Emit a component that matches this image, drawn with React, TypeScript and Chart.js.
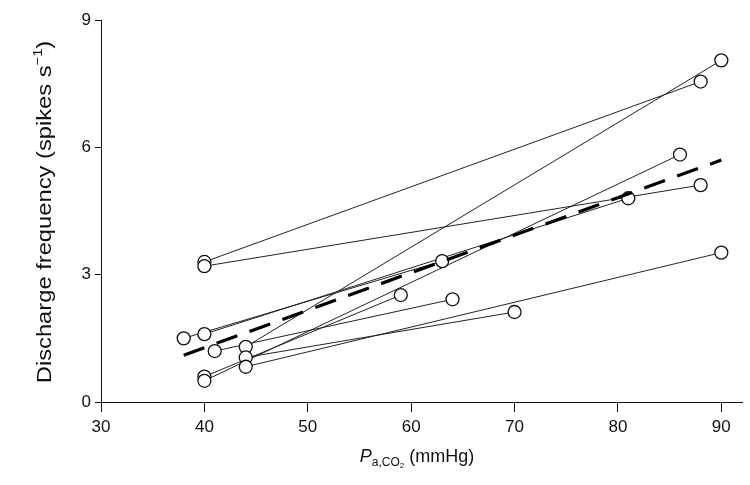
import React, { useEffect, useRef } from "react";
import { Chart, registerables } from "chart.js";

Chart.register(...registerables);

// Each neuron: low-CO2 point -> high-CO2 point
const lowX = [38, 40, 41, 44, 44, 44, 40, 40, 40, 40];
const lowY = [1.5, 1.6, 1.2, 1.3, 1.05, 0.83, 0.6, 0.5, 3.3, 3.2];
const highX = [63, 81, 64, 90, 70, 90, 59, 86, 88, 88];
const highY = [3.32, 4.8, 2.42, 8.05, 2.12, 3.52, 2.52, 5.83, 7.55, 5.11];

// Regression (dashed) line end points
const fitX = [38, 90];
const fitY = [1.1, 5.7];

const xTicks = [30, 40, 50, 60, 70, 80, 90];
const yTicks = [0, 3, 6, 9];

const FONT = '"Liberation Sans", Arial, sans-serif';

const titlePlugin = {
  id: "customTitles",
  afterDraw(chart: any) {
    const ctx = chart.ctx;
    ctx.save();
    ctx.fillStyle = "#111";
    ctx.textBaseline = "alphabetic";
    // X title: P_a,CO2 (mmHg)
    const parts = [
      { t: "P", f: `italic 18px ${FONT}`, dy: 0 },
      { t: "a,CO", f: `12px ${FONT}`, dy: 4 },
      { t: "2", f: `8px ${FONT}`, dy: 6 },
      { t: " (mmHg)", f: `18px ${FONT}`, dy: 0 },
    ];
    let total = 0;
    for (const p of parts) {
      ctx.font = p.f;
      total += ctx.measureText(p.t).width;
    }
    let x = 417 - total / 2;
    const base = 462;
    ctx.textAlign = "left";
    for (const p of parts) {
      ctx.font = p.f;
      ctx.fillText(p.t, x, base + p.dy);
      x += ctx.measureText(p.t).width;
    }
    // Y title
    ctx.translate(51, 212);
    ctx.rotate(-Math.PI / 2);
    ctx.scale(1.13, 1);
    const yparts = [
      { t: "Discharge frequency (spikes s", f: `21px ${FONT}`, dy: 0 },
      { t: "\u22121", f: `13px ${FONT}`, dy: -9 },
      { t: ")", f: `21px ${FONT}`, dy: 0 },
    ];
    total = 0;
    for (const p of yparts) {
      ctx.font = p.f;
      total += ctx.measureText(p.t).width;
    }
    x = -total / 2;
    for (const p of yparts) {
      ctx.font = p.f;
      ctx.fillText(p.t, x, p.dy);
      x += ctx.measureText(p.t).width;
    }
    ctx.restore();
  },
};

export default function App() {
  const ref = useRef<HTMLCanvasElement | null>(null);
  useEffect(() => {
    if (!ref.current) return;
    const neuronSets = lowX.map((lx, i) => ({
      type: "scatter" as const,
      data: [
        { x: lx, y: lowY[i] },
        { x: highX[i], y: highY[i] },
      ],
      showLine: true,
      borderColor: "#222",
      borderWidth: 1,
      pointRadius: 0,
      pointHoverRadius: 0,
      order: 3,
    }));
    const pts: { x: number; y: number }[] = [];
    lowX.forEach((lx, i) => {
      pts.push({ x: lx, y: lowY[i] });
      pts.push({ x: highX[i], y: highY[i] });
    });
    const chart = new Chart(ref.current, {
      type: "scatter",
      data: {
        datasets: [
          {
            data: fitX.map((x, i) => ({ x, y: fitY[i] })),
            showLine: true,
            borderColor: "#000",
            borderWidth: 3.2,
            borderDash: [22, 13],
            pointRadius: 0,
            order: 1,
          } as any,
          {
            data: pts,
            showLine: false,
            pointRadius: 6.5,
            pointBorderWidth: 1.3,
            pointBorderColor: "#111",
            pointBackgroundColor: "#fff",
            order: 2,
          } as any,
          ...neuronSets,
        ],
      },
      options: {
        responsive: false,
        animation: false,
        events: [],
        layout: { padding: { left: 0, top: 20, right: 8, bottom: 0 } },
        plugins: {
          legend: { display: false },
          tooltip: { enabled: false },
          title: { display: false },
        },
        scales: {
          x: {
            type: "linear",
            min: 30,
            max: 92,
            afterBuildTicks: (s: any) => {
              s.ticks = xTicks.map((v) => ({ value: v }));
            },
            afterFit: (s: any) => {
              s.height = 83;
            },
            ticks: {
              color: "#111",
              font: { family: FONT, size: 17 },
              padding: 5,
              maxRotation: 0,
              autoSkip: false,
            },
            grid: {
              display: true,
              drawOnChartArea: false,
              drawTicks: true,
              tickLength: 10,
              color: "#111",
              lineWidth: 1,
            },
            border: { display: true, color: "#111", width: 1 },
          },
          y: {
            type: "linear",
            min: 0,
            max: 9,
            afterBuildTicks: (s: any) => {
              s.ticks = yTicks.map((v) => ({ value: v }));
            },
            afterFit: (s: any) => {
              s.width = 101;
            },
            ticks: {
              color: "#111",
              font: { family: FONT, size: 17 },
              padding: 4,
              autoSkip: false,
            },
            grid: {
              display: true,
              drawOnChartArea: false,
              drawTicks: true,
              tickLength: 6,
              color: "#111",
              lineWidth: 1,
            },
            border: { display: true, color: "#111", width: 1 },
          },
        },
      },
      plugins: [titlePlugin],
    });
    return () => chart.destroy();
  }, []);
  return (
    <div style={{ position: "absolute", left: 0, top: 0, width: 750, height: 485, background: "#fff" }}>
      <canvas ref={ref} width={750} height={485} style={{ display: "block" }} />
    </div>
  );
}
